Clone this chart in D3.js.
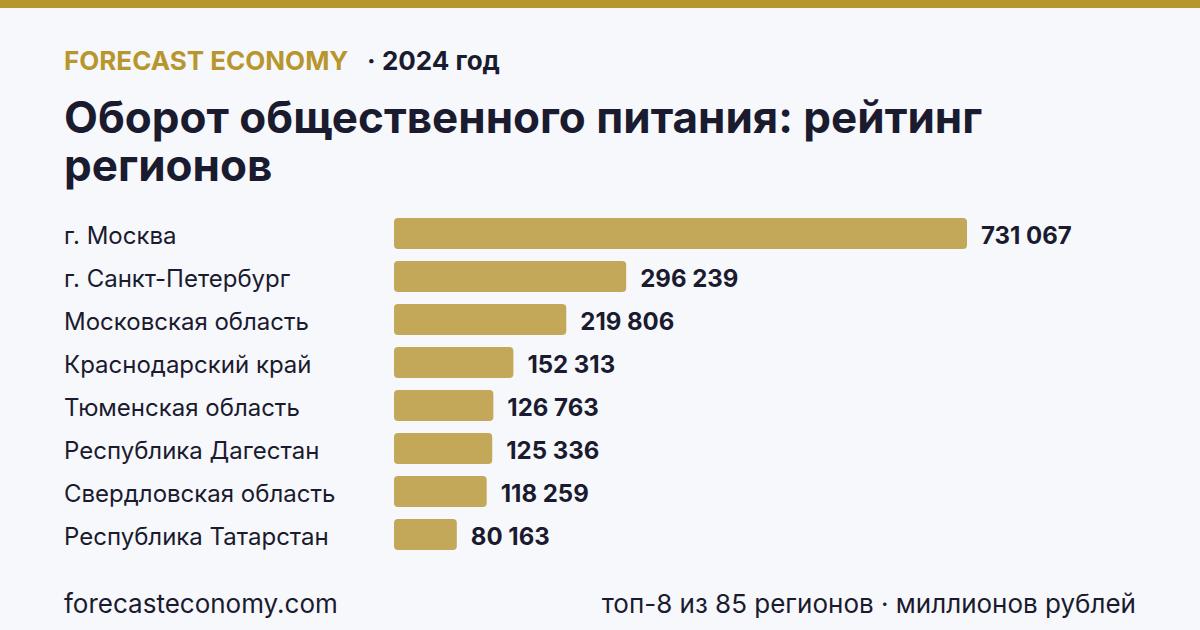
<!DOCTYPE html>
<html>
<head>
<meta charset="utf-8">
<script src="https://cdn.jsdelivr.net/npm/d3@7"></script>
<style>
  body { margin: 0; background: #f7f8fc; }
  svg { display: block; font-family: Inter, "Noto Sans", sans-serif; }
</style>
</head>
<body>
<div id="chart"></div>
<script>
const regions = ['г. Москва', 'г. Санкт-Петербург', 'Московская область', 'Краснодарский край',
  'Тюменская область', 'Республика Дагестан', 'Свердловская область', 'Республика Татарстан']
const values = [731067, 296239, 219806, 152313, 126763, 125336, 118259, 80163]

const width = 1200, height = 630
const gold = '#b8962e', barColor = '#c4a85a', ink = '#1b1b2f'

const svg = d3.select('#chart').append('svg')
  .attr('width', width).attr('height', height)

svg.append('rect').attr('width', width).attr('height', height).attr('fill', '#f7f8fc')
svg.append('rect').attr('width', width).attr('height', 8).attr('fill', gold)

// header
const kicker = svg.append('text').attr('x', 64).attr('y', 70)
  .attr('font-size', 26).attr('font-weight', 700)
kicker.append('tspan').attr('fill', gold).text('FORECAST ECONOMY')
kicker.append('tspan').attr('fill', ink).attr('dx', 20).text('· 2024 год')

const title = svg.append('text').attr('font-size', 44).attr('font-weight', 700).attr('fill', ink)
title.append('tspan').attr('x', 64).attr('y', 133).text('Оборот общественного питания: рейтинг')
title.append('tspan').attr('x', 64).attr('y', 181).text('регионов')

// bars
const x = d3.scaleLinear().domain([0, d3.max(values)]).range([394, 967])
const y = d3.scaleBand().domain(regions).range([212, 556]).paddingInner(0.28).paddingOuter(0.14)

const fmt = v => d3.format(',')(v).replace(/,/g, ' ')

const rows = svg.append('g').selectAll('g').data(regions).join('g')

rows.append('text')
  .attr('x', 64).attr('y', d => y(d) + y.bandwidth() / 2 + 2)
  .attr('dy', '0.35em').attr('font-size', 24).attr('fill', ink)
  .text(d => d)

rows.append('rect')
  .attr('x', x(0)).attr('y', d => y(d))
  .attr('width', (d, i) => x(values[i]) - x(0))
  .attr('height', y.bandwidth())
  .attr('rx', 4).attr('fill', barColor)

rows.append('text')
  .attr('x', (d, i) => x(values[i]) + 14).attr('y', d => y(d) + y.bandwidth() / 2 + 2)
  .attr('dy', '0.35em').attr('font-size', 24).attr('font-weight', 700).attr('fill', ink)
  .text((d, i) => fmt(values[i]))

// footer
svg.append('text').attr('x', 64).attr('y', 613).attr('font-size', 26).attr('fill', ink)
  .text('forecasteconomy.com')
svg.append('text').attr('x', 1136).attr('y', 613).attr('font-size', 26).attr('fill', ink)
  .attr('text-anchor', 'end').text('топ-8 из 85 регионов · миллионов рублей')
</script>
</body>
</html>
